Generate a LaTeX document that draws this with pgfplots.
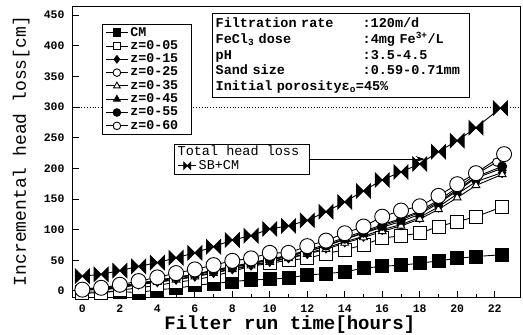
\documentclass[border=0pt]{standalone}
\usepackage{pgfplots}
\pgfplotsset{compat=1.18}
\usepackage{fontspec}
\setmainfont{Liberation Mono}
\usetikzlibrary{arrows.meta}

\pgfdeclareplotmark{bowtie}{%
  \pgfpathmoveto{\pgfqpoint{-\pgfplotmarksize}{\pgfplotmarksize}}%
  \pgfpathlineto{\pgfqpoint{\pgfplotmarksize}{-\pgfplotmarksize}}%
  \pgfpathlineto{\pgfqpoint{\pgfplotmarksize}{\pgfplotmarksize}}%
  \pgfpathlineto{\pgfqpoint{-\pgfplotmarksize}{-\pgfplotmarksize}}%
  \pgfpathclose
  \pgfusepathqfillstroke}

\pgfplotsset{
  common/.style={
    scale only axis, width=447pt, height=290pt,
    xmin=-0.5, xmax=23.35, ymin=-10, ymax=463,
  },
}

\begin{document}
\begin{tikzpicture}
\begin{axis}[
  common,
  legend image code/.code={\draw[mark repeat=2,mark phase=2,#1,mark size=3.8pt] plot coordinates {(0pt,0pt) (11pt,0pt) (22pt,0pt)};},
  xtick={0,2,...,22}, minor xtick={1,3,...,21},
  ytick={0,50,...,450},
  tick align=inside, xtick pos=bottom, ytick pos=left,
  major tick length=6pt, minor tick length=3pt,
  axis line style={line width=1pt},
  tick style={line width=0.8pt, black},
  /pgf/number format/assume math mode=true,
  ticklabel style={font=\bfseries\fontsize{11.5}{11.5}\selectfont},
  yticklabel style={xshift=-5pt},
  xticklabel style={inner sep=0pt, yshift=-8pt},
  xlabel={\bfseries Filter run time[hours]},
  ylabel={Incremental head loss[cm]},
  xlabel style={font=\fontsize{19}{19}\selectfont, inner sep=0pt, at={(axis description cs:0.485,-0.096)}, anchor=center},
  ylabel style={font=\fontsize{18}{18}\selectfont, at={(axis description cs:-0.116,0.503)}, anchor=center},
  clip=false,
  every axis plot/.append style={line width=0.9pt, black},
  legend style={at={(axis cs:1.05,435)}, anchor=north west, draw=black, line width=0.8pt,
    font=\bfseries\fontsize{13.3}{13.3}\selectfont, inner xsep=3pt, inner ysep=1.5pt, row sep=0pt,
    nodes={inner ysep=1pt, text height=9pt, text depth=2.3pt}},
  legend cell align=left,
]
\coordinate (ll) at (rel axis cs:0,0);
\coordinate (ur) at (rel axis cs:1,1);
\draw[dotted, line width=0.8pt] (axis cs:-0.5,300) -- (axis cs:23.35,300);

% CM
\addplot[mark=square*, mark size=6.5pt, mark options={fill=black}] coordinates {
(0,-2) (1,-2) (2,-1) (3,-3) (4,2) (5,4) (6,9) (7,12) (8,15) (9,18) (10,19) (11,21)
(12,26) (13,28) (14,31) (15,37) (16,40) (17,42) (18,45) (19,49) (20,53) (21,56) (22.4,59)};
\addlegendentry{CM}
% z=0-05
\addplot[mark=square*, mark size=6.5pt, mark options={fill=white}] coordinates {
(0,-4) (1,-3) (2,1) (3,5) (4,9) (5,14) (6,18) (7,24) (8,32) (9,40) (10,45) (11,50)
(12,53) (13,61) (14,67) (15,75) (16,86) (17,90) (18,94) (19,105) (20,113) (21,121) (22.4,137)};
\addlegendentry{z=0-05\hspace*{8pt}}
% z=0-15
\addplot[mark=diamond*, mark size=5pt, mark options={fill=black}] coordinates {
(0,3) (1,2) (2,6) (3,11) (4,15) (5,19) (6,24) (7,30) (8,36) (9,42) (10,48) (11,54)
(12,61) (13,70) (14,80) (15,89) (16,100) (17,108) (18,120) (19,137) (20,158) (21,178) (22.4,193)};
\addlegendentry{z=0-15}
% z=0-25
\addplot[mark=*, mark size=4pt, mark options={fill=white}] coordinates {
(0,4) (1,4) (2,8) (3,13) (4,17) (5,22) (6,27) (7,34) (8,40) (9,46) (10,52) (11,58)
(12,66) (13,76) (14,87) (15,97) (16,108) (17,118) (18,130) (19,148) (20,168) (21,190) (22.1,210)};
\addlegendentry{z=0-25}
% z=0-35
\addplot[mark=triangle*, mark size=4.5pt, mark options={fill=white}] coordinates {
(0,2) (1,1) (2,5) (3,10) (4,14) (5,18) (6,23) (7,29) (8,35) (9,41) (10,47) (11,53)
(12,60) (13,68) (14,78) (15,87) (16,97) (17,106) (18,117) (19,133) (20,152) (21,172) (22.4,190)};
\addlegendentry{z=0-35}
% z=0-45
\addplot[mark=triangle*, mark size=4.5pt, mark options={fill=black}] coordinates {
(0,3) (1,3) (2,7) (3,12) (4,16) (5,21) (6,26) (7,32) (8,38) (9,44) (10,50) (11,56)
(12,64) (13,73) (14,84) (15,94) (16,104) (17,113) (18,125) (19,143) (20,163) (21,184) (22.4,200)};
\addlegendentry{z=0-45}
% z=0-55
\addplot[mark=*, mark size=4.5pt, mark options={fill=black}] coordinates {
(0,4) (1,4) (2,8) (3,12) (4,17) (5,22) (6,27) (7,33) (8,39) (9,45) (10,51) (11,57)
(12,64) (13,74) (14,85) (15,95) (16,106) (17,116) (18,128) (19,145) (20,165) (21,186) (22.4,203)};
\addlegendentry{z=0-55}
% z=0-60
\addplot[mark=*, mark size=7.5pt, mark options={fill=white}] coordinates {
(0,2) (1,5) (2,10) (3,16) (4,22) (5,29) (6,35) (7,42) (8,49) (9,53) (10,62) (11,62)
(12,73) (13,82) (14,94) (15,105) (16,121) (17,131) (18,138) (19,155) (20,174) (21,192) (22.5,223)};
\addlegendentry{z=0-60}
% SB+CM
\addplot[mark=bowtie, mark size=7pt, forget plot] coordinates {
(0,24) (1,27) (2,33) (3,40) (4,46) (5,54) (6,62) (7,72) (8,83) (9,90) (10,101) (11,106)
(12,115) (13,129) (14,145) (15,163) (16,181) (17,194) (18,207) (19,227) (20,245) (21,266) (22.3,298)};

\node[draw, fill=white, line width=0.8pt, anchor=north west, inner xsep=3pt, inner ysep=3pt,
  text width=251pt, align=left, font=\bfseries\fontsize{13.5}{15.5}\selectfont]
  at (axis cs:6.93,453) {%
  \begin{tabular}{@{}l@{}l@{}}
  \makebox[147pt][l]{Filtration rate} & :120m/d\\
  FeCl\textsubscript{3} dose & :4mg Fe\textsuperscript{3+}/L\\
  pH & :3.5-4.5\\
  Sand size & :0.59-0.71mm\\
  \multicolumn{2}{@{}l@{}}{Initial porosityε\textsubscript{o}=45\%}
  \end{tabular}};
\draw[-{Stealth[length=9pt,width=6pt]}, line width=0.8pt] (axis cs:12.04,215) -- (axis cs:18.26,215);
\end{axis}

\begin{axis}[
  common, hide axis,
  legend image code/.code={\draw[mark repeat=2,mark phase=2,#1] plot coordinates {(0pt,0pt) (9pt,0pt) (18pt,0pt)};},
  legend style={at={(axis cs:4.91,239.7)}, anchor=north west, draw=black, line width=0.8pt,
    font=\fontsize{13.5}{13.5}\selectfont, inner xsep=3pt, inner ysep=1.5pt, row sep=0pt,
    nodes={inner ysep=1pt, text height=9pt, text depth=2.3pt}},
  legend cell align=left,
]
\addlegendimage{empty legend}
\addlegendentry{\hspace*{-21pt}Total head loss\hspace*{5pt}}
\addlegendimage{black, line width=0.9pt, mark=bowtie, mark size=3.5pt}
\addlegendentry{SB+CM}
\end{axis}
\pgfresetboundingbox
\useasboundingbox ([shift={(-73pt,-38pt)}]ll) rectangle ([shift={(3pt,7pt)}]ur);
\end{tikzpicture}
\end{document}
